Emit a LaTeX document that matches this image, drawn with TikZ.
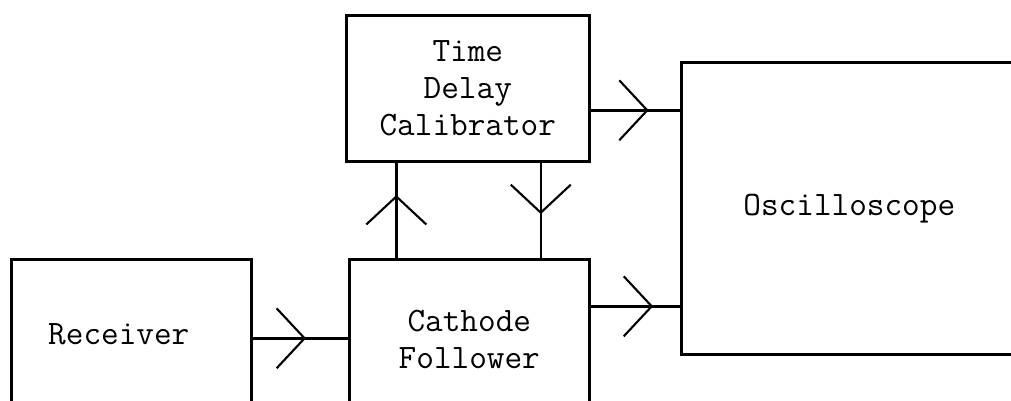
\documentclass[tikz,border=0pt]{standalone}
\usetikzlibrary{arrows.meta,decorations.markings}
\tikzset{
  block/.style={draw, line width=1.5pt, anchor=north west, align=center,
    font=\ttfamily\fontsize{19.5}{21}\selectfont},
  flow/.style={line width=1.4pt, decoration={markings, mark=at position #1 with
    {\arrow[line width=1.2pt]{Straight Barb[length=5.6mm, width=12mm]}}}, postaction={decorate}}
}
\begin{document}
\begin{tikzpicture}[x=0.02cm, y=-0.02cm]
\useasboundingbox (0,0) rectangle (1011,401);
\clip (0,0) rectangle (1011,401);
\node[block, minimum width=4.8cm, minimum height=3.0cm] (rec) at (10,258) {Receiver\hspace*{5mm}};
\node[block, minimum width=4.8cm, minimum height=3.2cm] (cf) at (348,258) {Cathode\\Follower};
\node[block, minimum width=4.86cm, minimum height=2.92cm] (tdc) at (345,14) {Time\\Delay\\Calibrator};
\node[block, minimum width=6.72cm, minimum height=5.84cm] (osc) at (680,61) {Oscilloscope};
\draw[flow=0.56] ([yshift=-0.8mm]rec.east) coordinate (c0) -- (c0 -| cf.west);
\draw[flow=0.70] ([yshift=6.6mm]cf.east) coordinate (c1) -- (c1 -| osc.west);
\draw[flow=0.65] ([yshift=-4.4mm]tdc.east) coordinate (c2) -- (c2 -| osc.west);
\draw[flow=0.66] ([xshift=-14.6mm]cf.north) coordinate (c3) -- (c3 |- tdc.south);
\draw[flow=0.54] ([xshift=14.6mm]tdc.south) coordinate (c4) -- (c4 |- cf.north);
\end{tikzpicture}
\end{document}
